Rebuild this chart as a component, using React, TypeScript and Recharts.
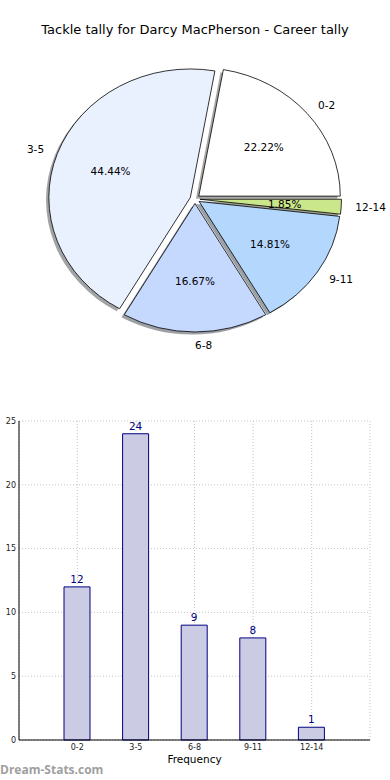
import { PieChart, Pie, BarChart, Bar, XAxis, YAxis, CartesianGrid, LabelList } from 'recharts';

const categories = ['0-2', '3-5', '6-8', '9-11', '12-14'];
const tallies = [12, 24, 9, 8, 1];
const sliceColors = ['#ffffff', '#eaf1fe', '#c5d8fe', '#b4d7fe', '#cae78b'];
const yTicks = [0, 5, 10, 15, 20, 25];

const pieData = categories.map((name, i) => ({ name, value: tallies[i] }));
const barData = categories.map((name, i) => ({ name, tally: tallies[i] }));

const FONT = '"DejaVu Sans", Verdana, sans-serif';
const SQUASH = 0.908; // the source pie is slightly squashed vertically
const EXPLODE = 0.035;
const RAD = Math.PI / 180;

function geom(p: any) {
  const rx = p.outerRadius;
  const ry = rx * SQUASH;
  const m = p.midAngle * RAD;
  const ax = p.cx + EXPLODE * rx * Math.cos(m);
  const ay = p.cy - EXPLODE * ry * Math.sin(m);
  return { rx, ry, ax, ay, m };
}

function wedgePath(p: any, dx = 0, dy = 0) {
  const { rx, ry, ax, ay } = geom(p);
  const s = p.startAngle * RAD;
  const e = p.endAngle * RAD;
  const x0 = ax + dx;
  const y0 = ay + dy;
  const x1 = x0 + rx * Math.cos(s);
  const y1 = y0 - ry * Math.sin(s);
  const x2 = x0 + rx * Math.cos(e);
  const y2 = y0 - ry * Math.sin(e);
  const large = Math.abs(p.endAngle - p.startAngle) > 180 ? 1 : 0;
  return `M${x0},${y0} L${x1},${y1} A${rx},${ry} 0 ${large} 0 ${x2},${y2} Z`;
}

function darken(hex: string, k: number) {
  const n = parseInt(hex.replace('#', ''), 16);
  const r = Math.round(((n >> 16) & 0xff) * k);
  const g = Math.round(((n >> 8) & 0xff) * k);
  const b = Math.round((n & 0xff) * k);
  return `rgb(${r},${g},${b})`;
}

const renderShadow = (p: any) => {
  const { rx, ry } = geom(p);
  return (
    <path
      key={`sh-${p.index}`}
      d={wedgePath(p, -0.02 * rx, 0.02 * ry)}
      fill={darken(sliceColors[p.index], 0.3)}
      fillOpacity={0.5}
      stroke="none"
    />
  );
};

const renderWedge = (p: any) => (
  <path
    key={`w-${p.index}`}
    d={wedgePath(p)}
    fill={sliceColors[p.index]}
    stroke="#000"
    strokeWidth={0.8}
    strokeLinejoin="round"
  />
);

const renderTexts = (p: any) => {
  const { rx, ry, ax, ay, m } = geom(p);
  const c = Math.cos(m);
  const s = Math.sin(m);
  const lx = ax + 1.1 * rx * c;
  const ly = ay - 1.1 * ry * s;
  const px = ax + 0.6 * rx * c;
  const py = ay - 0.6 * ry * s;
  return (
    <g key={`t-${p.index}`} fontFamily={FONT} fontSize={10.5} fill="#000">
      <text x={lx} y={ly} textAnchor={c > -0.01 ? 'start' : 'end'} dominantBaseline="central">
        {p.name}
      </text>
      <text x={px} y={py} textAnchor="middle" dominantBaseline="central">
        {`${(p.percent * 100).toFixed(2)}%`}
      </text>
    </g>
  );
};

const renderYLabel = (props: any) => {
  const vb = props.viewBox || {};
  const cy = (vb.y ?? 41) + (vb.height ?? 319) / 2;
  return (
    <text
      x={-3}
      y={cy}
      transform={`rotate(-90 -3 ${cy})`}
      textAnchor="middle"
      fontFamily={FONT}
      fontSize={10}
      fill="#000"
    >
      Number of Games
    </text>
  );
};

export default function App() {
  return (
    <div
      style={{
        position: 'absolute',
        left: 0,
        top: 0,
        width: 390,
        height: 780,
        background: '#fff',
        overflow: 'hidden',
        fontFamily: FONT,
      }}
    >
      <div
        style={{
          position: 'absolute',
          left: 0,
          top: 21,
          width: 390,
          textAlign: 'center',
          fontSize: 13,
          lineHeight: '18px',
          color: '#000',
        }}
      >
        Tackle tally for Darcy MacPherson - Career tally
      </div>

      <div style={{ position: 'absolute', left: 0, top: 0 }}>
        <PieChart width={390} height={380} margin={{ top: 0, right: 0, bottom: 0, left: 0 }}>
          <Pie
            data={pieData}
            dataKey="value"
            nameKey="name"
            cx={195}
            cy={199}
            outerRadius={141.5}
            startAngle={0}
            endAngle={360}
            fill="none"
            stroke="none"
            label={renderShadow}
            labelLine={false}
            isAnimationActive={false}
          />
          <Pie
            data={pieData}
            dataKey="value"
            nameKey="name"
            cx={195}
            cy={199}
            outerRadius={141.5}
            startAngle={0}
            endAngle={360}
            fill="none"
            stroke="none"
            label={renderWedge}
            labelLine={false}
            isAnimationActive={false}
          />
          <Pie
            data={pieData}
            dataKey="value"
            nameKey="name"
            cx={195}
            cy={199}
            outerRadius={141.5}
            startAngle={0}
            endAngle={360}
            fill="none"
            stroke="none"
            label={renderTexts}
            labelLine={false}
            isAnimationActive={false}
          />
        </PieChart>
      </div>

      <div style={{ position: 'absolute', left: 0, top: 380 }}>
        <BarChart
          width={390}
          height={400}
          data={barData}
          margin={{ top: 41, right: 20, bottom: 0, left: 0 }}
          barSize={26}
        >
          <CartesianGrid stroke="#c4c4c4" strokeDasharray="1 2" strokeWidth={1} />
          <XAxis
            dataKey="name"
            padding={{ left: 29, right: 29 }}
            height={40}
            tickLine={false}
            tickSize={4}
            tickMargin={0}
            axisLine={{ stroke: '#000', strokeWidth: 1 }}
            tick={{ fontSize: 8, fill: '#222', fontFamily: FONT }}
            interval={0}
            label={{
              value: 'Frequency',
              position: 'insideBottom',
              offset: 17,
              style: { fontSize: 10.5, fill: '#000', fontFamily: FONT },
            }}
          />
          <XAxis
            xAxisId="top"
            dataKey="name"
            orientation="top"
            height={0}
            tick={false}
            tickLine={false}
            axisLine={{ stroke: '#000', strokeWidth: 1 }}
          />
          <YAxis
            domain={[0, 25]}
            ticks={yTicks}
            width={19}
            tickLine={false}
            tickSize={3}
            tickMargin={0}
            axisLine={{ stroke: '#000', strokeWidth: 1 }}
            tick={{ fontSize: 8, fill: '#222', fontFamily: FONT }}
            label={renderYLabel}
          />
          <YAxis
            yAxisId="right"
            orientation="right"
            domain={[0, 25]}
            width={0}
            tick={false}
            tickLine={false}
            axisLine={{ stroke: '#000', strokeWidth: 1 }}
          />
          <Bar
            dataKey="tally"
            fill="#cbcce3"
            stroke="#000080"
            strokeWidth={1}
            isAnimationActive={false}
          >
            <LabelList
              dataKey="tally"
              position="top"
              offset={4}
              fill="#000080"
              fontSize={10.5}
              fontFamily={FONT}
            />
          </Bar>
        </BarChart>
      </div>

      <div
        style={{
          position: 'absolute',
          left: 0,
          top: 762,
          fontSize: 12,
          fontWeight: 'bold',
          color: '#a0a0a0',
          fontFamily: '"Open Sans", sans-serif',
          lineHeight: '16px',
        }}
      >
        Dream-Stats.com
      </div>
    </div>
  );
}
